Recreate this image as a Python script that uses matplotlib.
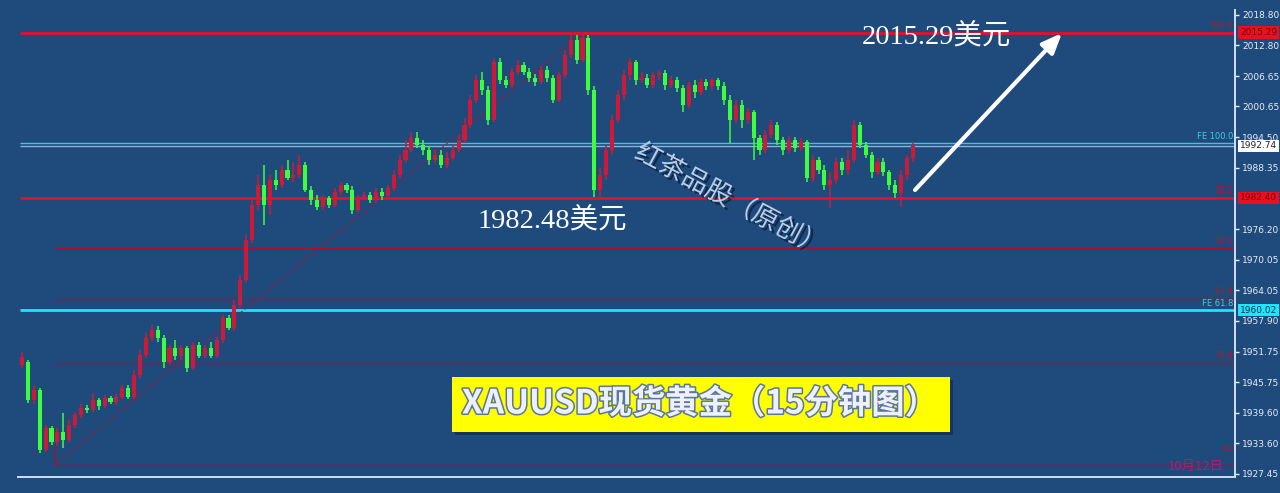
import matplotlib
matplotlib.use('Agg')
import matplotlib.pyplot as plt
import numpy as np
from matplotlib import patheffects as pe
from matplotlib.patches import Rectangle
from matplotlib.transforms import blended_transform_factory

# ---------------- data ----------------
opens = [1949.1, 1949.7, 1942.2, 1944.2, 1932.2, 1936.6, 1933.8, 1935.8, 1934.2, 1937.2,
         1939.2, 1940.6, 1940.2, 1942.2, 1941.0, 1942.6, 1941.8, 1942.8, 1944.6, 1942.8,
         1947.2, 1951.1, 1954.5, 1956.1, 1954.5, 1949.7, 1952.5, 1950.9, 1952.5, 1948.5,
         1953.1, 1950.9, 1952.5, 1950.9, 1954.1, 1958.5, 1956.5, 1961.1, 1966.1, 1974.0,
         1981.0, 1985.0, 1981.0, 1986.0, 1985.0, 1988.0, 1986.4, 1987.0, 1989.0, 1984.0,
         1982.0, 1980.6, 1982.4, 1981.0, 1983.6, 1985.0, 1984.0, 1980.0, 1982.4, 1983.0,
         1982.0, 1983.6, 1982.8, 1984.4, 1987.0, 1989.9, 1991.9, 1994.3, 1992.9, 1991.9,
         1989.9, 1990.9, 1989.0, 1990.3, 1991.9, 1993.9, 1996.9, 2001.9, 2005.9, 2003.9,
         1997.9, 2009.4, 2005.9, 2004.9, 2007.5, 2008.8, 2007.5, 2006.3, 2005.5, 2007.9,
         2006.3, 2001.9, 2006.9, 2010.8, 2013.8, 2009.8, 2014.2, 2003.9, 1984.0, 1987.0,
         1991.9, 1997.9, 2002.9, 2006.9, 2009.4, 2005.9, 2006.3, 2004.9, 2006.9, 2007.3,
         2004.9, 2005.9, 2004.3, 2000.9, 2004.9, 2003.5, 2005.5, 2004.7, 2005.9, 2004.7,
         2001.9, 1997.9, 2000.9, 1997.9, 1999.5, 1994.3, 1991.9, 1994.9, 1996.9, 1993.9,
         1991.9, 1993.9, 1992.3, 1993.5, 1986.4, 1989.9, 1988.0, 1985.0, 1986.0, 1989.5,
         1988.0, 1989.9, 1996.9, 1992.9, 1990.9, 1987.6, 1989.5, 1987.6, 1985.0, 1983.4,
         1987.0, 1990.3]
highs = [1951.7, 1950.1, 1945.0, 1944.6, 1937.2, 1937.0, 1936.6, 1939.6, 1938.2, 1939.8,
         1941.4, 1941.2, 1943.6, 1942.6, 1943.2, 1943.0, 1943.4, 1945.2, 1945.2, 1948.2,
         1952.1, 1955.5, 1957.1, 1956.9, 1955.1, 1953.1, 1954.1, 1953.1, 1952.9, 1953.7,
         1953.7, 1953.1, 1953.7, 1954.7, 1959.1, 1959.1, 1962.1, 1967.1, 1975.0, 1982.0,
         1987.0, 1989.0, 1987.0, 1988.0, 1989.0, 1989.9, 1989.5, 1990.9, 1989.5, 1984.8,
         1983.0, 1983.0, 1982.8, 1984.4, 1985.6, 1985.4, 1984.8, 1983.0, 1983.6, 1983.6,
         1984.4, 1984.4, 1985.0, 1988.0, 1990.9, 1993.9, 1995.5, 1995.5, 1993.9, 1992.7,
         1991.9, 1991.9, 1991.5, 1992.9, 1994.9, 1998.3, 2002.9, 2006.9, 2007.5, 2004.7,
         2010.2, 2010.2, 2006.7, 2008.2, 2009.8, 2009.4, 2008.2, 2007.1, 2008.6, 2008.6,
         2006.9, 2007.5, 2011.8, 2014.8, 2014.8, 2015.2, 2014.8, 2004.7, 1988.4, 1992.9,
         1998.9, 2003.9, 2007.9, 2010.2, 2009.8, 2007.5, 2007.1, 2007.5, 2007.9, 2007.9,
         2006.7, 2006.5, 2004.9, 2005.5, 2005.9, 2006.1, 2006.1, 2006.3, 2006.3, 2005.5,
         2002.9, 2001.9, 2001.9, 2000.3, 1999.9, 1994.9, 1995.9, 1997.9, 1997.5, 1994.5,
         1994.7, 1994.5, 1994.3, 1993.9, 1990.9, 1990.5, 1989.0, 1987.6, 1990.3, 1990.3,
         1991.9, 1997.9, 1997.5, 1993.5, 1991.5, 1990.3, 1990.3, 1988.0, 1986.0, 1988.0,
         1990.9, 1993.3]
lows = [1948.5, 1941.6, 1941.4, 1931.6, 1931.8, 1933.2, 1933.0, 1932.6, 1933.8, 1936.6,
        1938.6, 1939.6, 1939.8, 1940.2, 1940.6, 1941.4, 1941.2, 1942.4, 1942.4, 1942.4,
        1946.6, 1950.5, 1953.9, 1953.7, 1948.5, 1949.1, 1950.1, 1950.1, 1947.8, 1948.2,
        1950.5, 1950.5, 1950.5, 1950.5, 1953.5, 1956.1, 1955.9, 1960.5, 1965.5, 1973.4,
        1980.0, 1977.0, 1979.0, 1984.0, 1984.4, 1986.0, 1985.6, 1986.4, 1983.6, 1981.0,
        1980.0, 1980.0, 1980.4, 1980.6, 1983.0, 1983.4, 1979.2, 1979.6, 1982.0, 1981.4,
        1981.4, 1982.0, 1982.2, 1983.8, 1986.4, 1989.3, 1991.5, 1992.3, 1990.9, 1989.0,
        1989.3, 1988.4, 1988.4, 1989.9, 1991.5, 1993.3, 1996.3, 2001.3, 2002.9, 1996.9,
        1997.5, 2005.1, 2004.3, 2004.3, 2006.9, 2006.9, 2005.5, 2004.7, 2005.1, 2005.5,
        2001.3, 2001.5, 2006.3, 2010.2, 2009.0, 2009.4, 2002.9, 1982.48, 1982.6, 1986.0,
        1990.9, 1997.3, 2001.9, 2005.9, 2004.9, 2005.3, 2004.3, 2004.3, 2005.9, 2003.9,
        2004.3, 2003.5, 1999.5, 2000.3, 2002.3, 2002.9, 2003.9, 2003.9, 2003.9, 2000.9,
        1993.3, 1997.3, 1996.3, 1997.1, 1989.9, 1990.9, 1991.3, 1994.3, 1992.9, 1990.9,
        1991.3, 1991.5, 1991.7, 1985.6, 1985.6, 1987.2, 1984.0, 1980.4, 1985.2, 1987.0,
        1987.0, 1989.3, 1992.3, 1990.3, 1986.4, 1987.0, 1986.8, 1984.0, 1982.4, 1980.6,
        1986.0, 1989.5]
closes = [1950.7, 1942.2, 1944.2, 1932.2, 1936.6, 1933.8, 1935.8, 1934.2, 1937.2, 1939.2,
          1940.6, 1940.2, 1942.2, 1941.0, 1942.6, 1941.8, 1942.8, 1944.6, 1942.8, 1947.2,
          1951.1, 1954.5, 1956.1, 1954.5, 1949.7, 1952.5, 1950.9, 1952.5, 1948.5, 1953.1,
          1950.9, 1952.5, 1950.9, 1954.1, 1958.5, 1956.5, 1961.1, 1966.1, 1974.0, 1981.0,
          1985.0, 1981.0, 1986.0, 1985.0, 1988.0, 1986.4, 1987.0, 1989.0, 1984.0, 1982.0,
          1980.6, 1982.4, 1981.0, 1983.6, 1985.0, 1984.0, 1980.0, 1982.4, 1983.0, 1982.0,
          1983.6, 1982.8, 1984.4, 1987.0, 1989.9, 1991.9, 1994.3, 1992.9, 1991.9, 1989.9,
          1990.9, 1989.0, 1990.3, 1991.9, 1993.9, 1996.9, 2001.9, 2005.9, 2003.9, 1997.9,
          2009.4, 2005.9, 2004.9, 2007.5, 2008.8, 2007.5, 2006.3, 2005.5, 2007.9, 2006.3,
          2001.9, 2006.9, 2010.8, 2013.8, 2009.8, 2014.2, 2003.9, 1984.0, 1987.0, 1991.9,
          1997.9, 2002.9, 2006.9, 2009.4, 2005.9, 2006.3, 2004.9, 2006.9, 2007.3, 2004.9,
          2005.9, 2004.3, 2000.9, 2004.9, 2003.5, 2005.5, 2004.7, 2005.9, 2004.7, 2001.9,
          1997.9, 2000.9, 1997.9, 1999.5, 1994.3, 1991.9, 1994.9, 1996.9, 1993.9, 1991.9,
          1993.9, 1992.3, 1993.5, 1986.4, 1989.9, 1988.0, 1985.0, 1986.0, 1989.5, 1988.0,
          1989.9, 1996.9, 1992.9, 1990.9, 1987.6, 1989.5, 1987.6, 1985.0, 1983.4, 1987.0,
          1990.3, 1992.74]

y_ticks = [2018.80, 2012.80, 2006.65, 2000.65, 1994.50, 1988.35, 1976.20, 1970.05,
           1964.05, 1957.90, 1951.75, 1945.75, 1939.60, 1933.60, 1927.45]

fib_levels = [2015.29, 1982.40, 1972.40, 1962.30, 1949.55, 1929.30]
fib_labels = ['100.0', '38.2', '50.0', '61.8', '76.4', '0.0']
fe_levels = [1993.30, 1960.02]
fe_labels = ['FE 100.0', 'FE 61.8']
last_price = 1992.74
low_price = 1982.48
target_price = 2015.29

# ---------------- style ----------------
BG = '#1f4a7c'
RED = '#cc1a38'
GREEN = '#3dff3d'
W, H = 1280, 493
PX = 5.9        # pixels per candle
X0 = 22         # pixel of first candle

fig = plt.figure(figsize=(W / 100, H / 100), dpi=100, facecolor=BG)
ax = fig.add_axes([18 / W, 16 / H, (1235 - 18) / W, (477 - 10) / H])
ax.set_facecolor(BG)
xl, xr = (18 - X0) / PX, (1235 - X0) / PX
ax.set_xlim(xl, xr)
ax.set_ylim(1926.85, 2019.79)

# fib / FE lines
x_thick = (20 - X0) / PX
x_fib = (55 - X0) / PX
ax.hlines([fib_levels[0], fib_levels[1]], x_thick, xr, colors='#e3112e', lw=2.0, zorder=1)
ax.hlines(fib_levels[2:], x_fib, xr, colors='#a8122e', lw=1.0, zorder=1)
ax.hlines(fe_levels[1], x_thick, xr, colors='#19e6ff', lw=2.0, zorder=1)
ax.hlines(fe_levels[0], x_thick, xr, colors='#3cc6e0', lw=1.0, zorder=1)
ax.hlines(last_price, x_thick, xr, colors='#8fb3d6', lw=1.0, zorder=1)
# fib anchor line (low to high)
ax.plot([x_fib, x_fib], [fib_levels[-1], fib_levels[-1] + 4], color='#a8122e', lw=1, zorder=1)
hi_idx = int(np.argmax(highs))
ax.plot([x_fib, hi_idx], [fib_levels[-1], target_price], color='#b01030', lw=0.9,
        ls=(0, (2, 2)), zorder=1, alpha=0.9)

# candles
xs = np.arange(len(closes))
o = np.array(opens); c = np.array(closes); h = np.array(highs); l = np.array(lows)
up = c >= o
cols = np.where(up, RED, GREEN)
ax.vlines(xs, l, h, colors=cols, lw=1.1, zorder=3)
body_b = np.minimum(o, c)
body_h = np.maximum(np.abs(c - o), 0.35)
ax.bar(xs, body_h, bottom=body_b, width=0.68, color=cols, edgecolor='none', zorder=4)

# axes styling
for s in ['left', 'top']:
    ax.spines[s].set_visible(False)
ax.spines['right'].set_color('#d0e0f5')
ax.spines['right'].set_linewidth(1.4)
ax.spines['bottom'].set_color('#d0e0f5')
ax.spines['bottom'].set_linewidth(1.4)
ax.set_xticks([])
ax.yaxis.tick_right()
ax.set_yticks(y_ticks)
ax.set_yticklabels([f'{v:.2f}' for v in y_ticks])
ax.tick_params(axis='y', colors='#e8eef8', labelsize=6.5, length=3, width=1, pad=2)

# right price boxes
tr = blended_transform_factory(ax.transAxes, ax.transData)
def pbox(val, fc, tc):
    ax.text(1.004, val, f'{val:.2f}', transform=tr, fontsize=6.5, color=tc, va='center',
            ha='left', zorder=10,
            bbox=dict(boxstyle='square,pad=0.18', fc=fc, ec='none'))
pbox(target_price, '#e8101e', '#7a0010')
pbox(fib_levels[1], '#e8101e', '#7a0010')
pbox(last_price, 'white', '#202020')
pbox(fe_levels[1], '#19e6ff', '#103040')

# fib labels
for lv, lb in zip(fib_levels, fib_labels):
    dy = 2.2 if lb == '0.0' else 0.5
    ax.text(0.9985, lv + dy, lb, transform=tr, fontsize=6, color='#c01030',
            ha='right', va='bottom', zorder=6)
for lv, lb in zip(fe_levels, fe_labels):
    ax.text(0.9985, lv + 0.5, lb, transform=tr, fontsize=6, color='#3cd0e6',
            ha='right', va='bottom', zorder=6)

# date text
fig.text(1196 / W, 1 - 466 / H, '10月12日', fontsize=9.5, color='#c8106a',
         ha='center', va='center', family=['Noto Sans CJK SC', 'DejaVu Sans'])

# price annotations
serif = ['Liberation Serif', 'Noto Sans CJK SC']
fig.text(862 / W, 1 - 36 / H, f'{target_price:.2f}美元', fontsize=20.5, color='white',
         ha='left', va='center', family=serif)
fig.text(478 / W, 1 - 220 / H, f'{low_price:.2f}美元', fontsize=20.5, color='white',
         ha='left', va='center', family=serif)

# arrow
ax.annotate('', xy=(1062 / W, 1 - 33 / H), xytext=(915 / W, 1 - 190 / H),
            xycoords='figure fraction', textcoords='figure fraction',
            arrowprops=dict(arrowstyle='-|>,head_length=1.2,head_width=0.5', lw=3,
                            color='white', shrinkA=0, shrinkB=0), zorder=12)

# watermark
fig.text(730 / W, 1 - 200 / H, '红茶品股（原创）', fontsize=19, color='#b8cde6',
         rotation=-28, ha='center', va='center', family=['Noto Sans CJK SC'],
         path_effects=[pe.withSimplePatchShadow(offset=(2, -2), shadow_rgbFace='#0a2040',
                                                alpha=0.8)])

# yellow title box
fig.patches.append(Rectangle((455 / W, 1 - 435 / H), 498 / W, 55 / H,
                             transform=fig.transFigure, fc='#0d2a4a', ec='none', alpha=0.6))
fig.patches.append(Rectangle((452 / W, 1 - 432 / H), 498 / W, 55 / H,
                             transform=fig.transFigure, fc='#ffff00', ec='none'))
fig.text(700 / W, 1 - 404 / H, 'XAUUSD现货黄金（15分钟图）', fontsize=24, fontweight='bold',
         color='#eef0ff', ha='center', va='center', family=['Noto Sans CJK SC'],
         path_effects=[pe.withStroke(linewidth=2.2, foreground='#5a7898')])

fig.savefig('out.png', dpi=100, facecolor=BG)
